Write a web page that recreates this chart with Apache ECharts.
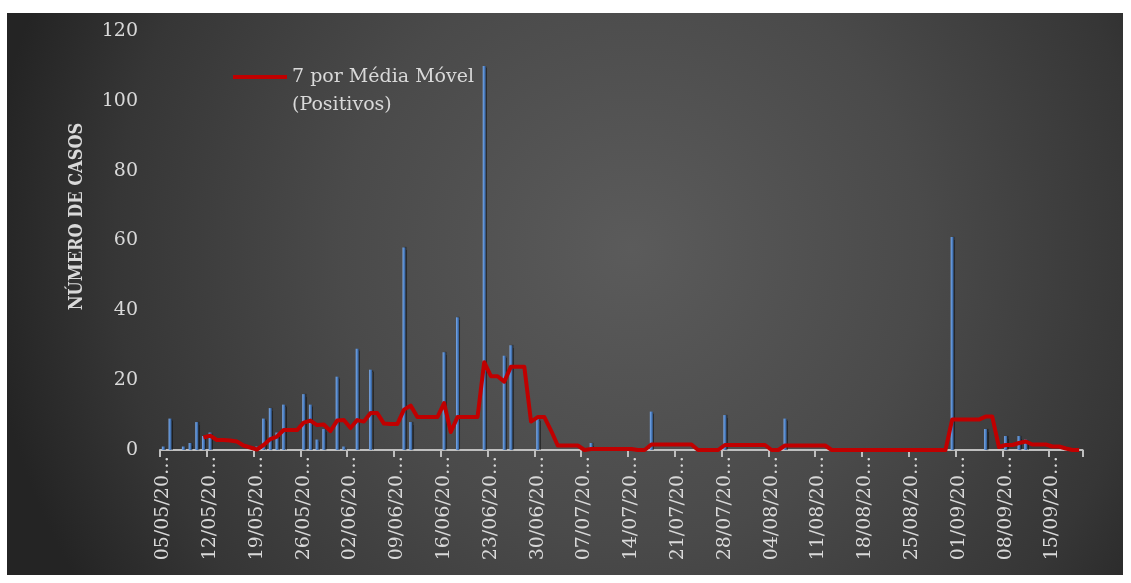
<!DOCTYPE html>
<html>
<head>
<meta charset="utf-8">
<script src="https://cdn.jsdelivr.net/npm/echarts@6/dist/echarts.min.js"></script>
<style>
  html, body { margin: 0; padding: 0; background: #ffffff; }
  #chart { position: absolute; left: 7px; top: 13px; width: 1116px; height: 562px; }
</style>
</head>
<body>
<div id="chart"></div>
<script>
// Daily dates (05/05/2020 – 19/09/2020)
const dates = [
  '05/05/2020','06/05/2020','07/05/2020','08/05/2020','09/05/2020','10/05/2020','11/05/2020',
  '12/05/2020','13/05/2020','14/05/2020','15/05/2020','16/05/2020','17/05/2020','18/05/2020',
  '19/05/2020','20/05/2020','21/05/2020','22/05/2020','23/05/2020','24/05/2020','25/05/2020',
  '26/05/2020','27/05/2020','28/05/2020','29/05/2020','30/05/2020','31/05/2020','01/06/2020',
  '02/06/2020','03/06/2020','04/06/2020','05/06/2020','06/06/2020','07/06/2020','08/06/2020',
  '09/06/2020','10/06/2020','11/06/2020','12/06/2020','13/06/2020','14/06/2020','15/06/2020',
  '16/06/2020','17/06/2020','18/06/2020','19/06/2020','20/06/2020','21/06/2020','22/06/2020',
  '23/06/2020','24/06/2020','25/06/2020','26/06/2020','27/06/2020','28/06/2020','29/06/2020',
  '30/06/2020','01/07/2020','02/07/2020','03/07/2020','04/07/2020','05/07/2020','06/07/2020',
  '07/07/2020','08/07/2020','09/07/2020','10/07/2020','11/07/2020','12/07/2020','13/07/2020',
  '14/07/2020','15/07/2020','16/07/2020','17/07/2020','18/07/2020','19/07/2020','20/07/2020',
  '21/07/2020','22/07/2020','23/07/2020','24/07/2020','25/07/2020','26/07/2020','27/07/2020',
  '28/07/2020','29/07/2020','30/07/2020','31/07/2020','01/08/2020','02/08/2020','03/08/2020',
  '04/08/2020','05/08/2020','06/08/2020','07/08/2020','08/08/2020','09/08/2020','10/08/2020',
  '11/08/2020','12/08/2020','13/08/2020','14/08/2020','15/08/2020','16/08/2020','17/08/2020',
  '18/08/2020','19/08/2020','20/08/2020','21/08/2020','22/08/2020','23/08/2020','24/08/2020',
  '25/08/2020','26/08/2020','27/08/2020','28/08/2020','29/08/2020','30/08/2020','31/08/2020',
  '01/09/2020','02/09/2020','03/09/2020','04/09/2020','05/09/2020','06/09/2020','07/09/2020',
  '08/09/2020','09/09/2020','10/09/2020','11/09/2020','12/09/2020','13/09/2020','14/09/2020',
  '15/09/2020','16/09/2020','17/09/2020','18/09/2020','19/09/2020'
];

// Positive cases per day
const positivos = [
  1, 9, 0, 1, 2, 8, 4,
  5, 0, 0, 0, 0, 0, 0,
  1, 9, 12, 5, 13, 0, 0,
  16, 13, 3, 6, 0, 21, 1,
  0, 29, 0, 23, 0, 0, 0,
  0, 58, 8, 0, 0, 0, 0,
  28, 0, 38, 0, 0, 0, 110,
  0, 0, 27, 30, 0, 0, 0,
  9, 0, 0, 0, 0, 0, 0,
  0, 2, 0, 0, 0, 0, 0,
  0, 0, 0, 11, 0, 0, 0,
  0, 0, 0, 0, 0, 0, 0,
  10, 0, 0, 0, 0, 0, 0,
  0, 0, 9, 0, 0, 0, 0,
  0, 0, 0, 0, 0, 0, 0,
  0, 0, 0, 0, 0, 0, 0,
  0, 0, 0, 0, 0, 0, 61,
  0, 0, 0, 0, 6, 0, 0,
  4, 0, 4, 3, 0, 0, 0,
  0, 0, 0, 0, 0
];

// 7-period moving average trendline (Positivos)
const mediaMovel = [
  null, null, null, null, null, null, 3.57,
  4.14, 2.86, 2.86, 2.71, 2.43, 1.29, 0.71,
  0.14, 1.43, 3.14, 3.86, 5.71, 5.71, 5.71,
  7.86, 8.43, 7.14, 7.29, 5.43, 8.43, 8.57,
  6.29, 8.57, 8.14, 10.57, 10.57, 7.57, 7.43,
  7.43, 11.57, 12.71, 9.43, 9.43, 9.43, 9.43,
  13.43, 5.14, 9.43, 9.43, 9.43, 9.43, 25.14,
  21.14, 21.14, 19.57, 23.86, 23.86, 23.86, 8.14,
  9.43, 9.43, 5.57, 1.29, 1.29, 1.29, 1.29,
  0, 0.29, 0.29, 0.29, 0.29, 0.29, 0.29,
  0.29, 0, 0, 1.57, 1.57, 1.57, 1.57,
  1.57, 1.57, 1.57, 0, 0, 0, 0,
  1.43, 1.43, 1.43, 1.43, 1.43, 1.43, 1.43,
  0, 0, 1.29, 1.29, 1.29, 1.29, 1.29,
  1.29, 1.29, 0, 0, 0, 0, 0,
  0, 0, 0, 0, 0, 0, 0,
  0, 0, 0, 0, 0, 0, 8.71,
  8.71, 8.71, 8.71, 8.71, 9.57, 9.57, 0.86,
  1.43, 1.43, 2, 2.43, 1.57, 1.57, 1.57,
  1, 1, 0.43, 0, 0
];

const yTicks = { min: 0, max: 120, interval: 20 };
const serieBarras = 'Positivos';
const serieMedia = '7 por Média Móvel (Positivos)';
const tituloY = 'NÚMERO DE CASOS';

const textColor = '#d9d9d9';
const serif = 'DejaVu Serif';

const chart = echarts.init(document.getElementById('chart'), null, { renderer: 'canvas' });

chart.setOption({
  backgroundColor: {
    type: 'radial', x: 0.56, y: 0.42, r: 1.15,
    colorStops: [
      { offset: 0, color: '#5b5b5b' },
      { offset: 0.45, color: '#4a4a4a' },
      { offset: 0.8, color: '#363636' },
      { offset: 1, color: '#242424' }
    ]
  },
  animation: false,
  grid: { left: 153, right: 40.5, top: 18, bottom: 125, containLabel: false },
  legend: {
    left: 221, top: 17,
    data: [serieMedia],
    icon: 'rect',
    itemWidth: 54, itemHeight: 4,
    // leading blank line keeps the swatch level with the first text line
    formatter: () => '\n7 por Média Móvel\n(Positivos)',
    textStyle: { color: textColor, fontFamily: serif, fontSize: 19, lineHeight: 28 }
  },
  xAxis: {
    type: 'category',
    data: dates,
    boundaryGap: true,
    axisLine: { lineStyle: { color: '#bfbfbf', width: 2 } },
    axisTick: { show: true, interval: 6, alignWithLabel: false, length: 7, lineStyle: { color: '#bfbfbf', width: 2 } },
    axisLabel: {
      interval: 6, rotate: 90, margin: 6,
      color: textColor, fontFamily: serif, fontSize: 19,
      formatter: v => v.slice(0, 8) + '…'
    },
    splitLine: { show: false }
  },
  yAxis: {
    type: 'value',
    min: yTicks.min, max: yTicks.max, interval: yTicks.interval,
    name: tituloY,
    nameLocation: 'middle',
    nameGap: 74,
    nameTextStyle: {
      color: textColor, fontFamily: '"DejaVu Serif Condensed", "DejaVu Serif"', fontWeight: 'bold', fontSize: 18,
      padding: [0, 0, 0, 48]
    },
    axisLine: { show: false },
    axisTick: { show: false },
    splitLine: { show: false },
    axisLabel: { color: textColor, fontFamily: serif, fontSize: 19, margin: 22 }
  },
  series: [
    {
      name: serieBarras,
      type: 'bar',
      data: positivos,
      barWidth: 3,
      itemStyle: {
        color: {
          type: 'linear', x: 0, y: 0, x2: 1, y2: 0,
          colorStops: [
            { offset: 0, color: '#82ace6' },
            { offset: 0.45, color: '#5287cc' },
            { offset: 1, color: '#30588f' }
          ]
        },
        shadowColor: 'rgba(0,0,0,0.45)', shadowBlur: 1, shadowOffsetX: 1.5
      }
    },
    {
      name: serieMedia,
      type: 'line',
      data: mediaMovel,
      symbol: 'none',
      connectNulls: false,
      lineStyle: { color: '#c00000', width: 4, join: 'round' },
      itemStyle: { color: '#c00000' },
      z: 3
    }
  ]
});
</script>
</body>
</html>
